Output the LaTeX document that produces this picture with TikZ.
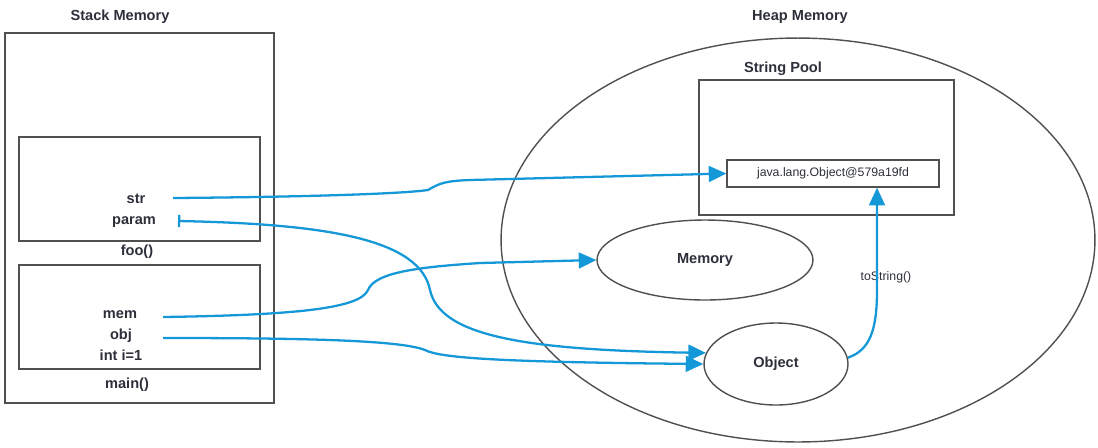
\documentclass[tikz,border=0pt]{standalone}
\usepackage{fontspec}
\setmainfont{Liberation Sans}
\usetikzlibrary{arrows.meta,shapes.geometric,fit}

\definecolor{framegray}{RGB}{80,80,80}
\definecolor{inkgray}{RGB}{45,48,58}
\definecolor{linkblue}{RGB}{20,152,215}

\tikzset{
  frame/.style={draw=framegray, line width=0.8pt, inner sep=0pt},
  lbl/.style={font=\bfseries\fontsize{8.3}{10}\selectfont, text=inkgray},
  small/.style={font=\fontsize{7}{9}\selectfont, text=inkgray},
  link/.style={draw=linkblue, line width=1.3pt, -{Triangle[length=10pt,width=9pt]}}
}

\begin{document}
\begin{tikzpicture}[x=0.02cm, y=-0.02cm]
    \useasboundingbox (0,0) rectangle (1098,447);
    % stack side
    \node[lbl] (stacktitle) at (120,17) {Stack Memory};
    \node[frame, fit={(5,33) (274,403)}] (stack) {};
    \node[frame, fit={(19,137) (260,241)}] (foo) {};
    \node[frame, fit={(19,265) (260,369)}] (main) {};
    \node[lbl] (str)   at (136,199) {str};
    \node[lbl] (param) at (134,222) {param};
    \node[lbl] (foolbl) at (137,252) {foo()};
    \node[lbl] (mem)   at (120,315) {mem};
    \node[lbl] (obj)   at (121,336) {obj};
    \node[lbl] (inti)  at (121,355) {int i=1};
    \node[lbl] (mainlbl) at (127,385) {main()};
    % heap side
    \node[lbl] (heaptitle) at (800,17) {Heap Memory};
    \node[frame, ellipse, minimum width=11.88cm, minimum height=8.08cm] (heap) at (798,240) {};
    \node[lbl] (pooltitle) at (783,69) {String Pool};
    \node[frame, fit={(699,80) (954,215)}] (pool) {};
    \node[frame, small, minimum width=4.24cm, minimum height=0.54cm] (inner) at (833,173.5)
      {java.lang.Object@579a19fd};
    \node[frame, lbl, ellipse, minimum width=4.32cm, minimum height=1.6cm] (memory) at (705,260) {Memory};
    \node[frame, lbl, ellipse, minimum width=2.88cm, minimum height=1.64cm] (object) at (776,364) {Object};
    \node[small] (tostr) at (886,277) {toString()};
    % connector ends
    \coordinate (strout) at (173,198);
    \coordinate (parout) at (178,221);
    \coordinate (memout) at (163,317);
    \coordinate (objout) at (163,338);
    \coordinate (tsx) at (877,300);
    % references
    \draw[link] (strout) .. controls (300,197) and (400,194) .. (428,190)
      .. controls (440,183) and (445,181) .. (470,180) -- (inner.west);
    \draw[link, {Bar[width=7pt]}-{Triangle[length=10pt,width=9pt]}] (parout)
      .. controls (330,224) and (420,240) .. (430,290)
      .. controls (440,335) and (520,350) .. (object.171);
    \draw[link] (memout) .. controls (300,315) and (360,308) .. (368,290)
      .. controls (375,272) and (420,267) .. (480,263) -- (memory.west);
    \draw[link] (objout) .. controls (300,338) and (400,340) .. (425,350)
      .. controls (440,358) and (500,362) .. (object.west);
    \draw[link] (object.5) .. controls (870,350) and (877,330) .. (877,290)
      -- (tsx |- inner.south);
\end{tikzpicture}
\end{document}
